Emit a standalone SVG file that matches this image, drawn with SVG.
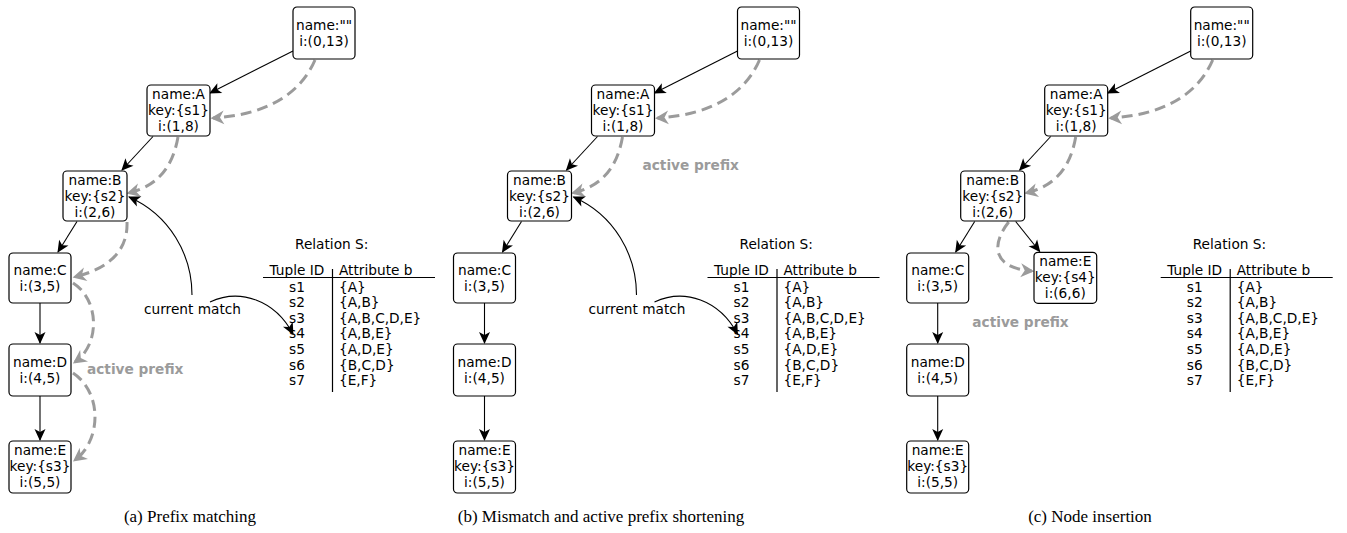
<svg xmlns="http://www.w3.org/2000/svg" width="1347" height="533" viewBox="0 0 1347 533">
<style>
.n rect{fill:#fff;stroke:#000;stroke-width:1.2}
text{font-family:"DejaVu Sans",sans-serif;font-size:13.7px;fill:#000}
.n text{text-anchor:middle}
.e{stroke:#000;stroke-width:1.1;fill:none;marker-end:url(#ab)}
.c{stroke:#000;stroke-width:1.1;fill:none;marker-end:url(#ab)}
.d{stroke:#9b9b9b;stroke-width:3;stroke-dasharray:11,6;fill:none;marker-end:url(#ag)}
.ap{font-weight:bold;fill:#9b9b9b}
.tl{stroke:#000;stroke-width:1.2;fill:none}
.sid{text-anchor:middle}
.cap{font-family:"Liberation Serif",serif;font-size:17px;text-anchor:middle}
</style>
<defs>
<marker id="ab" markerUnits="userSpaceOnUse" markerWidth="16" markerHeight="14" viewBox="-13 -7 16 14" refX="0" refY="0" orient="auto"><path d="M1,0 L-11,-5.5 L-8,0 L-11,5.5 Z" fill="#000"/></marker>
<marker id="ag" markerUnits="userSpaceOnUse" markerWidth="20" markerHeight="18" viewBox="-14 -9 20 18" refX="0" refY="0" orient="auto"><path d="M2.5,0 L-11,-7 L-7,0 L-11,7 Z" fill="#9b9b9b"/></marker>
</defs>

<!-- Panel (a) -->
<g id="panel-a">
<g id="a-connectors">
<path class="e" d="M293,51 L210,93"/>
<path class="e" d="M153,136.5 L122,170"/>
<path class="e" d="M77,221.5 L58,252"/>
<path class="e" d="M40,303 L40,343"/>
<path class="e" d="M40,396 L40,440"/>
<path class="d" d="M315,60 C300,95 265,115 213,118"/>
<path class="d" d="M178,137 C173,165 160,185 129,193"/>
<path class="d" d="M127,222 C128,250 110,268 75,277"/>
<path class="d" d="M73,283 C100,300 100,345 75,362"/>
<path class="d" d="M73,373 C102,392 102,440 75,460"/>
<path class="c" d="M192,295 C192,255 170,215 129,197"/>
<path class="c" d="M210,302 C240,288 275,300 293,334"/>
</g>
<g id="a-root" class="n"><rect x="293" y="7" width="62" height="52" rx="4"/><text x="324" y="29.5">name:""</text><text x="324" y="45.5">i:(0,13)</text></g>
<g id="a-A" class="n"><rect x="147" y="85" width="63" height="51" rx="4"/><text x="178.5" y="99">name:A</text><text x="178.5" y="115">key:{s1}</text><text x="178.5" y="131">i:(1,8)</text></g>
<g id="a-B" class="n"><rect x="63" y="171" width="64" height="50" rx="4"/><text x="95" y="185">name:B</text><text x="95" y="201">key:{s2}</text><text x="95" y="217">i:(2,6)</text></g>
<g id="a-C" class="n"><rect x="9" y="253" width="62" height="50" rx="4"/><text x="40" y="275">name:C</text><text x="40" y="291">i:(3,5)</text></g>
<g id="a-D" class="n"><rect x="9" y="344" width="62" height="52" rx="4"/><text x="40" y="366.5">name:D</text><text x="40" y="382.5">i:(4,5)</text></g>
<g id="a-E" class="n"><rect x="9" y="441" width="62" height="52" rx="4"/><text x="40" y="455">name:E</text><text x="40" y="471">key:{s3}</text><text x="40" y="487">i:(5,5)</text></g>
<text class="ap" x="87" y="374">active prefix</text>
<text x="144" y="314">current match</text>
<g id="a-table">
<text x="295" y="249">Relation S:</text>
<path class="tl" d="M263,277.5 H435 M332.5,269 V392"/>
<text class="sid" x="297" y="274.5">Tuple ID</text><text x="339" y="274.5">Attribute b</text>
<text class="sid" x="297" y="291.5">s1</text><text x="339" y="291.5">{A}</text>
<text class="sid" x="297" y="307.1">s2</text><text x="339" y="307.1">{A,B}</text>
<text class="sid" x="297" y="322.7">s3</text><text x="339" y="322.7">{A,B,C,D,E}</text>
<text class="sid" x="297" y="338.3">s4</text><text x="339" y="338.3">{A,B,E}</text>
<text class="sid" x="297" y="353.9">s5</text><text x="339" y="353.9">{A,D,E}</text>
<text class="sid" x="297" y="369.5">s6</text><text x="339" y="369.5">{B,C,D}</text>
<text class="sid" x="297" y="385.1">s7</text><text x="339" y="385.1">{E,F}</text>
</g>
</g>

<!-- Panel (b) -->
<g id="panel-b" transform="translate(444.5,0)">
<g id="b-connectors">
<path class="e" d="M293,51 L210,93"/>
<path class="e" d="M153,136.5 L122,170"/>
<path class="e" d="M77,221.5 L58,252"/>
<path class="e" d="M40,303 L40,343"/>
<path class="e" d="M40,396 L40,440"/>
<path class="d" d="M315,60 C300,95 265,115 213,118"/>
<path class="d" d="M178,137 C173,165 160,185 129,193"/>
<path class="c" d="M192,295 C192,255 170,215 129,197"/>
<path class="c" d="M210,302 C240,288 275,300 293,334"/>
</g>
<g id="b-root" class="n"><rect x="293" y="7" width="62" height="52" rx="4"/><text x="324" y="29.5">name:""</text><text x="324" y="45.5">i:(0,13)</text></g>
<g id="b-A" class="n"><rect x="147" y="85" width="63" height="51" rx="4"/><text x="178.5" y="99">name:A</text><text x="178.5" y="115">key:{s1}</text><text x="178.5" y="131">i:(1,8)</text></g>
<g id="b-B" class="n"><rect x="63" y="171" width="64" height="50" rx="4"/><text x="95" y="185">name:B</text><text x="95" y="201">key:{s2}</text><text x="95" y="217">i:(2,6)</text></g>
<g id="b-C" class="n"><rect x="9" y="253" width="62" height="50" rx="4"/><text x="40" y="275">name:C</text><text x="40" y="291">i:(3,5)</text></g>
<g id="b-D" class="n"><rect x="9" y="344" width="62" height="52" rx="4"/><text x="40" y="366.5">name:D</text><text x="40" y="382.5">i:(4,5)</text></g>
<g id="b-E" class="n"><rect x="9" y="441" width="62" height="52" rx="4"/><text x="40" y="455">name:E</text><text x="40" y="471">key:{s3}</text><text x="40" y="487">i:(5,5)</text></g>
<text class="ap" x="198" y="170">active prefix</text>
<text x="144" y="314">current match</text>
<g id="b-table">
<text x="295" y="249">Relation S:</text>
<path class="tl" d="M263,277.5 H435 M332.5,269 V392"/>
<text class="sid" x="297" y="274.5">Tuple ID</text><text x="339" y="274.5">Attribute b</text>
<text class="sid" x="297" y="291.5">s1</text><text x="339" y="291.5">{A}</text>
<text class="sid" x="297" y="307.1">s2</text><text x="339" y="307.1">{A,B}</text>
<text class="sid" x="297" y="322.7">s3</text><text x="339" y="322.7">{A,B,C,D,E}</text>
<text class="sid" x="297" y="338.3">s4</text><text x="339" y="338.3">{A,B,E}</text>
<text class="sid" x="297" y="353.9">s5</text><text x="339" y="353.9">{A,D,E}</text>
<text class="sid" x="297" y="369.5">s6</text><text x="339" y="369.5">{B,C,D}</text>
<text class="sid" x="297" y="385.1">s7</text><text x="339" y="385.1">{E,F}</text>
</g>
</g>

<!-- Panel (c) -->
<g id="panel-c" transform="translate(897.7,0)">
<g id="c-connectors">
<path class="e" d="M293,51 L210,93"/>
<path class="e" d="M153,136.5 L122,170"/>
<path class="e" d="M77,221.5 L58,252"/>
<path class="e" d="M118,221.5 L142,251.5"/>
<path class="e" d="M40,303 L40,343"/>
<path class="e" d="M40,396 L40,440"/>
<path class="d" d="M315,60 C300,95 265,115 213,118"/>
<path class="d" d="M178,137 C173,165 160,185 129,193"/>
<path class="d" d="M111,222 C93,245 95,268 134,271"/>
</g>
<g id="c-root" class="n"><rect x="293" y="7" width="62" height="52" rx="4"/><text x="324" y="29.5">name:""</text><text x="324" y="45.5">i:(0,13)</text></g>
<g id="c-A" class="n"><rect x="147" y="85" width="63" height="51" rx="4"/><text x="178.5" y="99">name:A</text><text x="178.5" y="115">key:{s1}</text><text x="178.5" y="131">i:(1,8)</text></g>
<g id="c-B" class="n"><rect x="63" y="171" width="64" height="50" rx="4"/><text x="95" y="185">name:B</text><text x="95" y="201">key:{s2}</text><text x="95" y="217">i:(2,6)</text></g>
<g id="c-E2" class="n"><rect x="136.3" y="252.3" width="62.7" height="51" rx="4"/><text x="167.6" y="266.3">name:E</text><text x="167.6" y="282.3">key:{s4}</text><text x="167.6" y="298.3">i:(6,6)</text></g>
<g id="c-C" class="n"><rect x="9" y="253" width="62" height="50" rx="4"/><text x="40" y="275">name:C</text><text x="40" y="291">i:(3,5)</text></g>
<g id="c-D" class="n"><rect x="9" y="344" width="62" height="52" rx="4"/><text x="40" y="366.5">name:D</text><text x="40" y="382.5">i:(4,5)</text></g>
<g id="c-E" class="n"><rect x="9" y="441" width="62" height="52" rx="4"/><text x="40" y="455">name:E</text><text x="40" y="471">key:{s3}</text><text x="40" y="487">i:(5,5)</text></g>
<text class="ap" x="74.6" y="327">active prefix</text>
<g id="c-table">
<text x="295" y="249">Relation S:</text>
<path class="tl" d="M263,277.5 H435 M332.5,269 V392"/>
<text class="sid" x="297" y="274.5">Tuple ID</text><text x="339" y="274.5">Attribute b</text>
<text class="sid" x="297" y="291.5">s1</text><text x="339" y="291.5">{A}</text>
<text class="sid" x="297" y="307.1">s2</text><text x="339" y="307.1">{A,B}</text>
<text class="sid" x="297" y="322.7">s3</text><text x="339" y="322.7">{A,B,C,D,E}</text>
<text class="sid" x="297" y="338.3">s4</text><text x="339" y="338.3">{A,B,E}</text>
<text class="sid" x="297" y="353.9">s5</text><text x="339" y="353.9">{A,D,E}</text>
<text class="sid" x="297" y="369.5">s6</text><text x="339" y="369.5">{B,C,D}</text>
<text class="sid" x="297" y="385.1">s7</text><text x="339" y="385.1">{E,F}</text>
</g>
</g>

<g id="captions">
<text class="cap" x="190" y="522">(a) Prefix matching</text>
<text class="cap" x="601" y="522">(b) Mismatch and active prefix shortening</text>
<text class="cap" x="1090" y="522">(c) Node insertion</text>
</g>
</svg>
